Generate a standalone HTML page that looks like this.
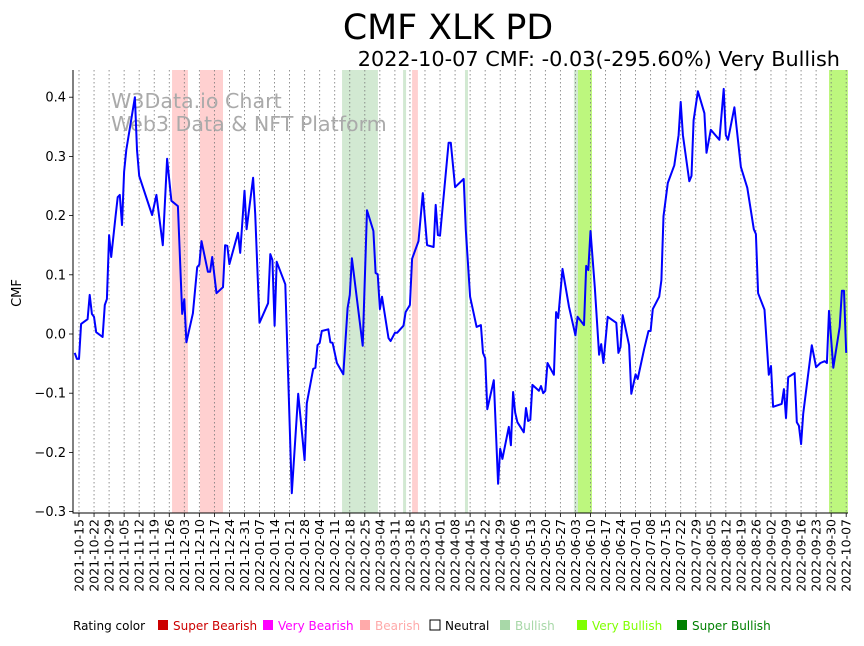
<!DOCTYPE html>
<html><head><meta charset="utf-8"><style>
body{margin:0;background:#fff;font-family:"Liberation Sans","DejaVu Sans",sans-serif;}
svg text{font-family:"DejaVu Sans","Liberation Sans",sans-serif;}
</style></head><body>
<svg id="chart" width="864" height="641" viewBox="0 0 864 641" xmlns="http://www.w3.org/2000/svg">
<rect width="864" height="641" fill="#fff"/>
<text x="448" y="39" font-size="34.8" text-anchor="middle">CMF XLK PD</text>
<text x="840" y="66" font-size="20.8" text-anchor="end">2022-10-07 CMF: -0.03(-295.60%) Very Bullish</text>
<g id="bands"></g>
<g id="grid"></g>
<text x="111" y="108" font-size="20.6" fill="#aaa">W3Data.io Chart</text>
<text x="111" y="131" font-size="20.6" fill="#aaa">Web3 Data &amp; NFT Platform</text>
<g id="series"></g>
<g id="axes"></g>
<text transform="translate(21,293) rotate(-90)" font-size="13" text-anchor="middle">CMF</text>
<g id="legend"></g>
</svg>
<script>
// days since 2021-10-15
const dayOffsets=[-2,-1,0,1,4,5,6,7,8,11,12,13,14,15,17,18,19,20,21,22,26,27,28,32,34,36,39,41,43,46,48,49,50,53,55,56,57,60,61,62,64,67,68,69,70,74,75,77,78,81,82,84,88,89,90,91,92,96,99,102,105,106,109,110,111,112,113,116,117,118,120,123,125,126,127,132,134,137,138,139,140,141,144,145,147,148,151,152,154,155,158,160,162,165,166,167,168,172,173,175,179,180,182,185,187,188,189,190,193,195,196,197,200,201,202,203,204,207,208,209,210,211,214,215,216,217,218,221,222,223,225,228,231,232,235,236,237,238,240,242,243,244,246,250,251,252,253,256,257,259,260,263,265,266,267,270,271,272,274,277,279,280,281,284,285,286,288,291,292,294,298,300,301,302,305,308,311,314,315,316,319,321,322,323,327,328,329,330,333,334,335,336,337,341,343,345,347,348,349,351,354,355,356,357];
const cmfValues=[-0.032,-0.042,-0.042,0.017,0.025,0.066,0.034,0.029,0.003,-0.005,0.049,0.059,0.167,0.130,0.198,0.231,0.235,0.184,0.274,0.311,0.400,0.311,0.267,0.223,0.201,0.235,0.150,0.296,0.225,0.216,0.034,0.059,-0.014,0.035,0.113,0.117,0.157,0.105,0.105,0.130,0.069,0.079,0.150,0.149,0.118,0.171,0.137,0.242,0.177,0.264,0.203,0.019,0.052,0.135,0.125,0.014,0.122,0.084,-0.269,-0.101,-0.213,-0.117,-0.059,-0.057,-0.019,-0.015,0.005,0.008,-0.014,-0.015,-0.049,-0.068,0.044,0.066,0.128,-0.020,0.209,0.174,0.103,0.101,0.042,0.063,-0.007,-0.012,0.002,0.002,0.014,0.037,0.049,0.127,0.157,0.238,0.150,0.147,0.218,0.167,0.166,0.323,0.323,0.248,0.262,0.176,0.063,0.012,0.015,-0.032,-0.041,-0.127,-0.078,-0.253,-0.194,-0.211,-0.157,-0.188,-0.098,-0.133,-0.149,-0.166,-0.125,-0.147,-0.145,-0.086,-0.096,-0.088,-0.100,-0.096,-0.049,-0.069,0.037,0.027,0.110,0.046,-0.002,0.029,0.015,0.115,0.108,0.174,0.079,-0.035,-0.017,-0.049,0.029,0.019,-0.032,-0.022,0.032,-0.019,-0.101,-0.068,-0.076,-0.025,0.005,0.005,0.042,0.063,0.091,0.199,0.255,0.285,0.336,0.392,0.336,0.258,0.267,0.361,0.410,0.373,0.306,0.345,0.328,0.414,0.336,0.328,0.383,0.282,0.247,0.177,0.169,0.069,0.041,-0.069,-0.054,-0.123,-0.118,-0.093,-0.142,-0.073,-0.066,-0.149,-0.155,-0.186,-0.135,-0.019,-0.056,-0.049,-0.046,-0.049,0.039,-0.057,0.012,0.073,0.073,-0.032];
const bandStarts=[43.3,56.3,155,122.4,150.8,179.6,230.3,232.2,349];
const bandEnds=[50.7,67,157.7,139.1,152.2,181,232.2,238.7,357.8];
const bandRatings=["bearish","bearish","bearish","bullish","bullish","bullish","bullish","very-bullish","very-bullish"];
const yTicks=[0.4,0.3,0.2,0.1,0.0,-0.1,-0.2,-0.3];
const yTickLabels=["0.4","0.3","0.2","0.1","0.0","−0.1","−0.2","−0.3"];
const legendLabels=["Super Bearish","Very Bearish","Bearish","Neutral","Bullish","Very Bullish","Super Bullish"];
const legendColors=["#cc0000","#ff00ff","#ffaaaa","#ffffff","#a8d8a8","#7fff00","#008000"];

const NS="http://www.w3.org/2000/svg";
const L=73,R=848,T=70,B=513;
function xs(d){return 79+d*2.149;}
function ys(v){return 334-v*592;}
function mk(tag,attrs,parent){const e=document.createElementNS(NS,tag);for(const k in attrs)e.setAttribute(k,attrs[k]);parent.appendChild(e);return e;}
const bandColor={"bearish":"#ffd0d0","bullish":"#d2e9d2","very-bullish":"#bdf77e"};
const gB=document.getElementById('bands');
for(let i=0;i<bandStarts.length;i++){
  const r=mk('rect',{x:xs(bandStarts[i]),y:T,width:xs(bandEnds[i])-xs(bandStarts[i]),height:B-T,fill:bandColor[bandRatings[i]]},gB);
  
  
}
const gG=document.getElementById('grid'),gA=document.getElementById('axes');
const start=new Date(Date.UTC(2021,9,15));
for(let w=0;w<=51;w++){
  const x=xs(w*7);
  const gl=mk('line',{x1:x,x2:x,y1:T,y2:B,stroke:'#777','stroke-width':0.8,'stroke-dasharray':'1.5,2.5'},gG);
  
  
  mk('line',{x1:x,x2:x,y1:B,y2:B+4,stroke:'#000','stroke-width':0.8},gA);
  const dt=new Date(start.getTime()+w*7*86400000);
  const t=mk('text',{transform:`translate(${x+4.5},${B+6}) rotate(-90)`,'font-size':12.5,'text-anchor':'end'},gA);
  
  
  t.textContent=dt.toISOString().slice(0,10);
}
yTicks.forEach((v,i)=>{
  const y=ys(v);
  mk('line',{x1:L-4,x2:L,y1:y,y2:y,stroke:'#000','stroke-width':0.8},gA);
  const t=mk('text',{x:L-7,y:y+4.5,'font-size':13,'text-anchor':'end'},gA);
  
  
  t.textContent=yTickLabels[i];
});
const ax=mk('path',{d:`M${L},${T}V${B}H${R}`,fill:'none',stroke:'#000','stroke-width':1},gA);


let d='';
for(let i=0;i<cmfValues.length;i++){d+=(i?'L':'M')+xs(dayOffsets[i]).toFixed(1)+','+ys(cmfValues[i]).toFixed(1);}
const line=mk('path',{d:d,fill:'none',stroke:'#0000ff','stroke-width':2,'stroke-linejoin':'round'},document.getElementById('series'));


const gL=document.getElementById('legend');
const lt=mk('text',{x:73,y:630,'font-size':12},gL);


lt.textContent='Rating color';
const lx=[158,263,360,430,500,577,677];
legendLabels.forEach((lab,i)=>{
  const sq=mk('rect',{x:lx[i],y:620,width:10,height:10,fill:legendColors[i],stroke:i===3?'#000':'none','stroke-width':1},gL);
  
  
  const t=mk('text',{x:lx[i]+15,y:630,'font-size':12,fill:i===3?'#000':legendColors[i]},gL);
  
  
  t.textContent=lab;
});
</script>
</body></html>
